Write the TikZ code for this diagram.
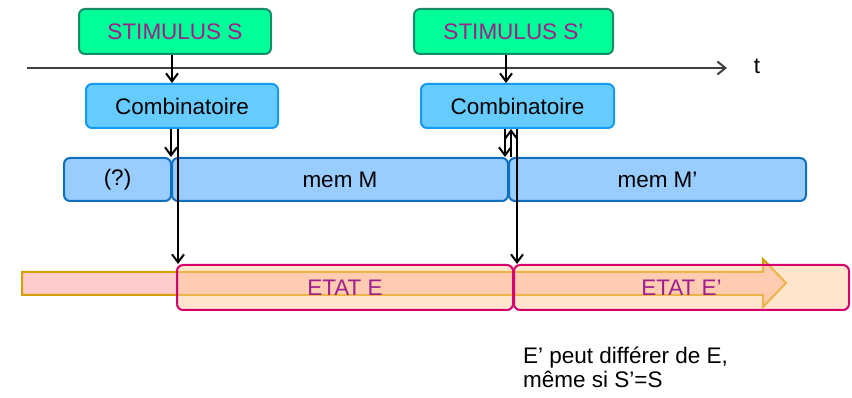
\documentclass[tikz,border=0pt]{standalone}
\usepackage{fontspec}
\setmainfont{Liberation Sans}
\usetikzlibrary{arrows.meta}
\definecolor{stimfill}{RGB}{0,255,153}
\definecolor{stimline}{RGB}{25,140,105}
\definecolor{labelmag}{RGB}{160,30,140}
\definecolor{combfill}{RGB}{102,204,255}
\definecolor{combline}{RGB}{20,155,240}
\definecolor{memfill}{RGB}{153,204,255}
\definecolor{memline}{RGB}{16,112,192}
\definecolor{barfill}{RGB}{255,204,204}
\definecolor{barline}{RGB}{214,160,0}
\definecolor{etatfill}{RGB}{255,204,153}
\definecolor{etatline}{RGB}{214,0,110}
\definecolor{axisgray}{RGB}{64,64,64}
\begin{document}
\begin{tikzpicture}[x=1pt,y=-1pt,
  txt/.style={font=\fontsize{22.5}{27}\selectfont},
  box/.style={txt, rounded corners=6pt, line width=2pt, inner sep=0pt, anchor=north west},
  stim/.style={box, fill=stimfill, draw=stimline, text=labelmag},
  comb/.style={box, fill=combfill, draw=combline},
  mem/.style={box, fill=memfill, draw=memline},
  etat/.style={box, fill=etatfill, fill opacity=0.5, text opacity=1, draw=etatline, text=labelmag},
  flow/.style={line width=2pt, -{Straight Barb[length=8pt,width=12pt,line width=2pt]}},
  axis/.style={draw=axisgray, line width=2pt, -{Straight Barb[length=8pt,width=13pt,line width=2pt]}},
]
\useasboundingbox (0,0) rectangle (852,398);

% time axis
\coordinate (ax0) at (27,68);
\coordinate (ax1) at (727,68);
\draw[axis] (ax0) -- (ax1);
\node[txt, anchor=center] (tlab) at (757,66) {t};

% stimuli
\node[stim, minimum width=192pt, minimum height=45pt] (s1) at (78,8) {STIMULUS S};
\node[stim, minimum width=199pt, minimum height=45pt] (s2) at (413,8) {STIMULUS S’};

% combinational blocks
\node[comb, minimum width=192pt, minimum height=44pt] (c1) at (85,83) {Combinatoire};
\node[comb, minimum width=193pt, minimum height=44pt] (c2) at (420,83) {Combinatoire};

% memory row
\node[mem, minimum width=107pt, minimum height=43pt] (m0) at (63,157) {(?)};
\node[mem, minimum width=336pt, minimum height=43pt] (m1) at (171,157) {mem M};
\node[mem, minimum width=297pt, minimum height=43pt] (m2) at (508,157) {mem M’};

% state timeline bar
\path[draw=barline, fill=barfill, line width=2pt]
  (22,272) -- (763,272) -- (763,259) -- (786,283) -- (763,307) -- (763,295) -- (22,295) -- cycle;

% states
\node[etat, minimum width=336pt, minimum height=45pt] (e1) at (176,264) {ETAT E};
\node[etat, minimum width=335pt, minimum height=45pt] (e2) at (513,264) {ETAT E’};

% vertical positions of the signal lines
\coordinate (k1) at (172,0);
\coordinate (k2) at (506,0);
\coordinate (d1) at (171,0);
\coordinate (f1) at (178,0);
\coordinate (d2) at (505,0);
\coordinate (u2) at (511,0);
\coordinate (f2) at (517,0);

% stimulus to combinational
\draw[flow] (s1.south -| k1) -- (c1.north -| k1);
\draw[flow] (s2.south -| k2) -- (c2.north -| k2);

% combinational to memory and state
\draw[flow] (c1.south -| d1) -- (m1.north -| d1);
\draw[flow] (c1.south -| f1) -- (e1.north -| f1);
\draw[flow] (c2.south -| d2) -- (m1.north -| d2);
\draw[flow] (m2.north -| u2) -- (c2.south -| u2);
\draw[flow] (c2.south -| f2) -- (e2.north -| f2);

% remark
\node[txt, anchor=base west, inner sep=0pt] (note1) at (523,363) {E’ peut différer de E,};
\node[txt, anchor=base west, inner sep=0pt] (note2) at (523,387) {même si S’=S};
\end{tikzpicture}
\end{document}
